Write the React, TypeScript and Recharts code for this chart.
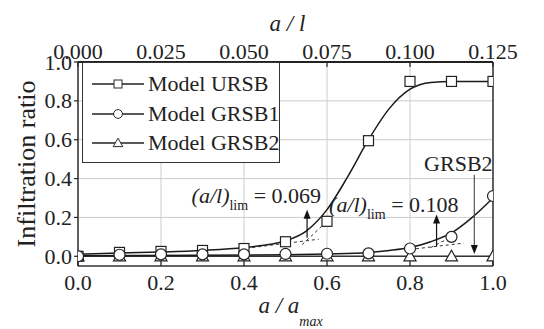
import React from "react";
import {
  CartesianGrid,
  ComposedChart,
  Label,
  Line,
  ReferenceLine,
  Scatter,
  XAxis,
  YAxis,
} from "recharts";

const SERIF = "'Liberation Serif', 'Times New Roman', serif";
const INK = "#222";

// axis ticks
const xTicks = [0, 0.2, 0.4, 0.6, 0.8, 1.0];
const yTicks = [0, 0.2, 0.4, 0.6, 0.8, 1.0];
const topTicks = [0, 0.025, 0.05, 0.075, 0.1, 0.125];

// measured points (markers)
const ursbPoints = [
  { x: 0, y: 0.0 },
  { x: 0.1, y: 0.02 },
  { x: 0.2, y: 0.025 },
  { x: 0.3, y: 0.03 },
  { x: 0.4, y: 0.04 },
  { x: 0.5, y: 0.075 },
  { x: 0.6, y: 0.18 },
  { x: 0.7, y: 0.595 },
  { x: 0.8, y: 0.9 },
  { x: 0.9, y: 0.9 },
  { x: 1.0, y: 0.9 },
];
const grsb1Points = [
  { x: 0, y: 0.0 },
  { x: 0.1, y: 0.008 },
  { x: 0.2, y: 0.01 },
  { x: 0.3, y: 0.01 },
  { x: 0.4, y: 0.01 },
  { x: 0.5, y: 0.012 },
  { x: 0.6, y: 0.013 },
  { x: 0.7, y: 0.015 },
  { x: 0.8, y: 0.04 },
  { x: 0.9, y: 0.1 },
  { x: 1.0, y: 0.31 },
];
const grsb2Points = [
  { x: 0, y: 0.0 },
  { x: 0.1, y: 0.0 },
  { x: 0.2, y: 0.0 },
  { x: 0.3, y: 0.0 },
  { x: 0.4, y: 0.0 },
  { x: 0.5, y: 0.0 },
  { x: 0.6, y: 0.0 },
  { x: 0.7, y: 0.0 },
  { x: 0.8, y: 0.0 },
  { x: 0.9, y: 0.0 },
  { x: 1.0, y: 0.0 },
];

// fitted curves
const ursbCurve = [
  { x: 0, y: 0.01 },
  { x: 0.1, y: 0.017 },
  { x: 0.2, y: 0.022 },
  { x: 0.3, y: 0.03 },
  { x: 0.4, y: 0.045 },
  { x: 0.5, y: 0.08 },
  { x: 0.55, y: 0.13 },
  { x: 0.6, y: 0.24 },
  { x: 0.65, y: 0.41 },
  { x: 0.7, y: 0.6 },
  { x: 0.75, y: 0.76 },
  { x: 0.8, y: 0.86 },
  { x: 0.85, y: 0.895 },
  { x: 0.9, y: 0.9 },
  { x: 1.0, y: 0.9 },
];
const grsb1Curve = [
  { x: 0, y: 0.003 },
  { x: 0.5, y: 0.008 },
  { x: 0.6, y: 0.012 },
  { x: 0.7, y: 0.02 },
  { x: 0.75, y: 0.03 },
  { x: 0.8, y: 0.045 },
  { x: 0.85, y: 0.075 },
  { x: 0.9, y: 0.12 },
  { x: 0.95, y: 0.2 },
  { x: 1.0, y: 0.3 },
];
const grsb2Curve = [
  { x: 0, y: 0.0 },
  { x: 1.0, y: 0.0 },
];

// dashed tangent constructions
const tangents = [
  [{ x: 0.42, y: 0.045 }, { x: 0.58, y: 0.088 }],
  [{ x: 0.54, y: 0.06 }, { x: 0.61, y: 0.2 }],
  [{ x: 0.8, y: 0.035 }, { x: 0.93, y: 0.068 }],
  [{ x: 0.85, y: 0.045 }, { x: 0.9, y: 0.1 }],
];

// (a/l)lim arrows on the top axis
const limArrows = [
  { id: "ursb", aOverL: 0.069, from: 0.095, to: 0.24, value: "0.069" },
  { id: "grsb1", aOverL: 0.108, from: 0.05, to: 0.215, value: "0.108" },
];
const limLabelOffset: Record<string, { dx: number; dy: number }> = {
  ursb: { dx: 14, dy: -7 },
  grsb1: { dx: 22, dy: -3 },
};

const grsb2Arrow = { x: 0.955, from: 0.42, to: 0.012, label: "GRSB2" };

const legendItems = [
  { name: "Model URSB", marker: "square" },
  { name: "Model GRSB1", marker: "circle" },
  { name: "Model GRSB2", marker: "triangle" },
];

// anchors the top a/l axis to a series so its scale gets built
const topAnchor = topTicks.map((al) => ({ al, y: 0 }));

function Marker({ kind, cx, cy }: { kind: string; cx: number; cy: number }) {
  if (kind === "square")
    return <rect x={cx - 5} y={cy - 5} width={10} height={10} fill="#fff" stroke={INK} strokeWidth={1.2} />;
  if (kind === "circle") return <circle cx={cx} cy={cy} r={5.5} fill="#fff" stroke={INK} strokeWidth={1.2} />;
  return (
    <polygon
      points={`${cx},${cy - 6} ${cx + 6},${cy + 4.5} ${cx - 6},${cy + 4.5}`}
      fill="#fff"
      stroke={INK}
      strokeWidth={1.2}
    />
  );
}

const markerShape = (kind: string) => (p: any) => <Marker kind={kind} cx={p.cx} cy={p.cy} />;

function BottomTick({ x, y, payload }: any) {
  return (
    <g>
      <line x1={x} x2={x} y1={y} y2={y - 5} stroke={INK} strokeWidth={1.2} />
      <text x={x} y={y + 24} textAnchor="middle" fontFamily={SERIF} fontSize={22} fill={INK}>
        {Number(payload.value).toFixed(1)}
      </text>
    </g>
  );
}

function TopTick({ x, y, payload }: any) {
  return (
    <g>
      <line x1={x} x2={x} y1={y} y2={y + 5} stroke={INK} strokeWidth={1.2} />
      <text x={x} y={y - 3} textAnchor="middle" fontFamily={SERIF} fontSize={22} fill={INK}>
        {Number(payload.value).toFixed(3)}
      </text>
    </g>
  );
}

function LeftTick({ x, y, payload }: any) {
  return (
    <g>
      <line x1={x} x2={x - 4} y1={y} y2={y} stroke={INK} strokeWidth={1.2} />
      <text x={x - 6} y={y + 7.5} textAnchor="end" fontFamily={SERIF} fontSize={22} fill={INK}>
        {Number(payload.value).toFixed(1)}
      </text>
    </g>
  );
}

function ArrowHead({ x, y, dir }: { x: number; y: number; dir: number }) {
  // dir: -1 pointing up, 1 pointing down
  return <polygon points={`${x},${y} ${x - 3.5},${y - dir * 9} ${x + 3.5},${y - dir * 9}`} fill="#111" />;
}

function LimArrowShape(props: any, item: (typeof limArrows)[number]) {
  const { x1, y1, x2, y2 } = props;
  const off = limLabelOffset[item.id];
  return (
    <g>
      <line x1={x1} y1={y1} x2={x2} y2={y2 + 6} stroke="#111" strokeWidth={1.2} />
      <ArrowHead x={x2} y={y2} dir={-1} />
      <text x={x2 + off.dx} y={y2 + off.dy} textAnchor="end" fontFamily={SERIF} fontSize={22} fill={INK}>
        <tspan fontStyle="italic">(a/l)</tspan>
        <tspan fontSize={14} dy={7}>
          lim
        </tspan>
        <tspan dy={-7}>{` = ${item.value}`}</tspan>
      </text>
    </g>
  );
}

function Grsb2ArrowShape(props: any) {
  const { x1, y1, x2, y2 } = props;
  return (
    <g>
      <line x1={x1} y1={y1} x2={x2} y2={y2 - 6} stroke="#555" strokeWidth={1.2} />
      <ArrowHead x={x2} y={y2} dir={1} />
      <text x={x1 - 16} y={y1 - 4} textAnchor="middle" fontFamily={SERIF} fontSize={22} fill={INK}>
        {grsb2Arrow.label}
      </text>
    </g>
  );
}

function Legend() {
  return (
    <div
      style={{
        position: "absolute",
        left: 82,
        top: 62,
        width: 198,
        height: 101,
        boxSizing: "border-box",
        border: "1.5px solid #333",
        background: "#fff",
      }}
    >
      {legendItems.map((it, i) => (
        <div
          key={it.name}
          style={{
            position: "absolute",
            left: 9,
            top: 8 + i * 29.5,
            height: 26,
            display: "flex",
            alignItems: "center",
            whiteSpace: "nowrap",
          }}
        >
          <svg width={52} height={20} style={{ display: "block" }}>
            <line x1={0} x2={52} y1={10} y2={10} stroke={INK} strokeWidth={1.3} />
            <g transform="scale(0.8) translate(6.5,2.5)">
              <Marker kind={it.marker} cx={26} cy={10} />
            </g>
          </svg>
          <span style={{ marginLeft: 4, fontFamily: SERIF, fontSize: 22, color: INK, lineHeight: "26px" }}>
            {it.name}
          </span>
        </div>
      ))}
    </div>
  );
}

export default function App() {
  return (
    <div style={{ position: "absolute", left: 0, top: 0, width: 544, height: 329, background: "#fff" }}>
      <ComposedChart width={544} height={329} margin={{ top: 0, right: 51, bottom: 0, left: 0 }}>
        <CartesianGrid
          xAxisId="bottom"
          yAxisId="left"
          stroke="#cccccc"
          strokeWidth={1}
          verticalValues={xTicks}
          horizontalValues={yTicks}
        />
        <XAxis
          xAxisId="bottom"
          dataKey="x"
          type="number"
          domain={[0, 1]}
          ticks={xTicks}
          interval={0}
          allowDataOverflow
          height={63}
          tickSize={0}
          tickMargin={0}
          tick={BottomTick}
          axisLine={{ stroke: "#333", strokeWidth: 1.5 }}
        >
          <Label
            content={(p: any) => {
              const vb = p.viewBox;
              return (
                <text
                  x={vb.x + vb.width / 2 + 5}
                  y={vb.y + 47}
                  textAnchor="middle"
                  fontFamily={SERIF}
                  fontSize={23}
                  fontStyle="italic"
                  fill={INK}
                >
                  a / a
                  <tspan fontSize={14} dy={13}>
                    max
                  </tspan>
                </text>
              );
            }}
          />
        </XAxis>
        <XAxis
          xAxisId="top"
          dataKey="al"
          orientation="top"
          type="number"
          domain={[0, 0.125]}
          ticks={topTicks}
          interval={0}
          allowDataOverflow
          height={62}
          tickSize={0}
          tickMargin={0}
          tick={TopTick}
          axisLine={{ stroke: "#222", strokeWidth: 2 }}
        >
          <Label
            content={(p: any) => {
              const vb = p.viewBox;
              return (
                <text
                  x={vb.x + vb.width / 2 + 2}
                  y={vb.y + 31}
                  textAnchor="middle"
                  fontFamily={SERIF}
                  fontSize={23}
                  fontStyle="italic"
                  fill={INK}
                >
                  a / l
                </text>
              );
            }}
          />
        </XAxis>
        <YAxis
          yAxisId="left"
          dataKey="y"
          type="number"
          domain={[-0.05, 1]}
          ticks={yTicks}
          interval={0}
          allowDataOverflow
          width={78}
          tickSize={0}
          tickMargin={0}
          tick={LeftTick}
          axisLine={{ stroke: "#333", strokeWidth: 1.5 }}
        >
          <Label
            content={(p: any) => {
              const vb = p.viewBox;
              const cx = vb.x + 35;
              const cy = vb.y + vb.height / 2;
              return (
                <text
                  x={cx}
                  y={cy}
                  transform={`rotate(-90 ${cx} ${cy})`}
                  textAnchor="middle"
                  fontFamily={SERIF}
                  fontSize={26}
                  fill={INK}
                >
                  Infiltration ratio
                </text>
              );
            }}
          />
        </YAxis>

        <ReferenceLine xAxisId="bottom" yAxisId="left" x={1} stroke="#333" strokeWidth={1.5} />

        {tangents.map((seg, i) => (
          <ReferenceLine
            key={`tan-${i}`}
            xAxisId="bottom"
            yAxisId="left"
            segment={seg}
            stroke="#333"
            strokeWidth={1}
            strokeDasharray="3 3"
          />
        ))}

        <Scatter
          xAxisId="top"
          yAxisId="left"
          data={topAnchor}
          shape={() => <g />}
          isAnimationActive={false}
        />

        <Line
          xAxisId="bottom"
          yAxisId="left"
          data={grsb2Curve}
          dataKey="y"
          type="linear"
          stroke="#333"
          strokeWidth={1.6}
          dot={false}
          isAnimationActive={false}
        />
        <Line
          xAxisId="bottom"
          yAxisId="left"
          data={grsb1Curve}
          dataKey="y"
          type="monotone"
          stroke="#1a1a1a"
          strokeWidth={1.5}
          dot={false}
          isAnimationActive={false}
        />
        <Line
          xAxisId="bottom"
          yAxisId="left"
          data={ursbCurve}
          dataKey="y"
          type="monotone"
          stroke="#1a1a1a"
          strokeWidth={1.5}
          dot={false}
          isAnimationActive={false}
        />

        <Scatter
          xAxisId="bottom"
          yAxisId="left"
          data={grsb2Points}
          shape={markerShape("triangle")}
          isAnimationActive={false}
        />
        <Scatter
          xAxisId="bottom"
          yAxisId="left"
          data={ursbPoints}
          shape={markerShape("square")}
          isAnimationActive={false}
        />
        <Scatter
          xAxisId="bottom"
          yAxisId="left"
          data={grsb1Points}
          shape={markerShape("circle")}
          isAnimationActive={false}
        />

        {limArrows.map((a) => (
          <ReferenceLine
            key={a.id}
            xAxisId="top"
            yAxisId="left"
            segment={[
              { x: a.aOverL, y: a.from },
              { x: a.aOverL, y: a.to },
            ]}
            shape={(p: any) => LimArrowShape(p, a)}
          />
        ))}
        <ReferenceLine
          xAxisId="bottom"
          yAxisId="left"
          segment={[
            { x: grsb2Arrow.x, y: grsb2Arrow.from },
            { x: grsb2Arrow.x, y: grsb2Arrow.to },
          ]}
          shape={Grsb2ArrowShape}
        />
      </ComposedChart>
      <Legend />
    </div>
  );
}
